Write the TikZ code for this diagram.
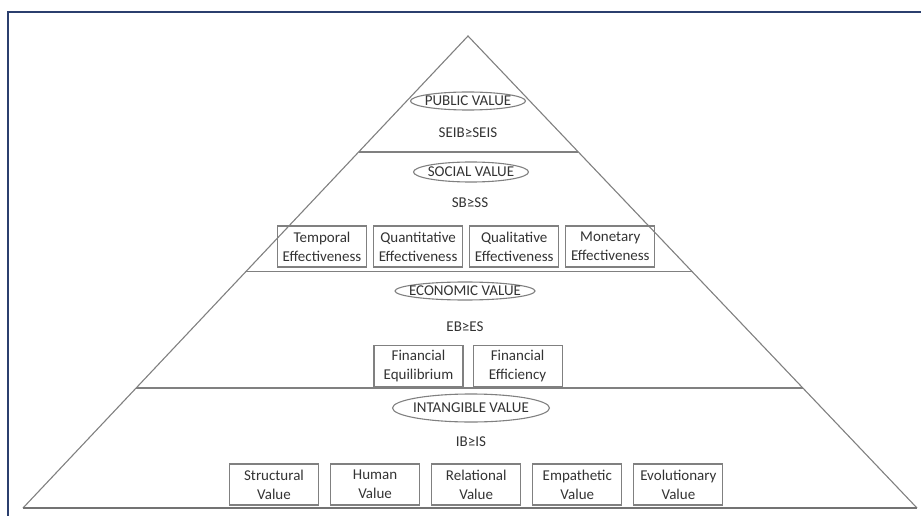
\documentclass[tikz,border=0pt]{standalone}
\usepackage{fontspec}
\setmainfont{Carlito}
\usetikzlibrary{positioning,shapes.geometric,calc}
\definecolor{framecol}{HTML}{2B3F6E}
\definecolor{linecol}{HTML}{808080}
\definecolor{textcol}{HTML}{333333}

\begin{document}
\begin{tikzpicture}[x=1pt,y=-1pt,node distance=10pt,
                    every node/.style={font=\fontsize{15}{19}\selectfont,text=textcol},
                    valuering/.style={ellipse,draw=linecol,line width=1.1pt,inner sep=-20pt},
                    valuebox/.style={draw=linecol,line width=1.1pt,minimum width=89pt,
                                     minimum height=41pt,align=center,inner sep=1pt}]

  \useasboundingbox (0,0) rectangle (921,516);
  \draw[framecol,line width=2pt] (8,516) -- (8,12) -- (921,12);

  % pyramid
  \coordinate (apex) at (468,36);
  \coordinate (bl) at (23,508);
  \coordinate (br) at (917,508);
  \draw[linecol,line width=1.1pt] (bl) -- (apex) -- (br);
  \draw[linecol!90!black,line width=1.6pt] (bl) -- (br);
  \foreach \t in {0.2458,0.498,0.7458}
    \draw[linecol,line width=1.1pt] ($(apex)!\t!(bl)$) -- ($(apex)!\t!(br)$);

  % public value
  \node[valuering,minimum width=115pt,minimum height=18pt] (pv) at (468,101) {PUBLIC VALUE};
  \node (pvrel) at (468,133) {SEIB≥SEIS};

  % social value
  \node[valuering,minimum width=115pt,minimum height=20pt] (sv) at (471,172) {SOCIAL VALUE};
  \node (svrel) at (470,203) {SB≥SS};
  \node[valuebox] (temp) at (322,246.5) {Temporal\\Effectiveness};
  \node[valuebox] (quan) [right=6pt of temp] {Quantitative\\Effectiveness};
  \node[valuebox] (qual) [right=6pt of quan] {Qualitative\\Effectiveness};
  \node[valuebox] (mone) [right=6pt of qual] {Monetary\\Effectiveness};

  % economic value
  \node[valuering,minimum width=140pt,minimum height=18pt] (ev) at (465,291) {ECONOMIC VALUE};
  \node (evrel) at (465,327) {EB≥ES};
  \node[valuebox] (equi) at (418.5,366) {Financial\\Equilibrium};
  \node[valuebox] (effi) [right=9pt of equi] {Financial\\Efficiency};

  % intangible value
  \node[valuering,minimum width=157pt,minimum height=28pt] (iv) at (471,408) {INTANGIBLE VALUE};
  \node (ivrel) at (471,442) {IB≥IS};
  \node[valuebox] (stru) at (274,484.5) {Structural\\Value};
  \node[valuebox] (huma) [right=11pt of stru] {Human\\Value};
  \node[valuebox] (rela) [right=11pt of huma] {Relational\\Value};
  \node[valuebox] (empa) [right=11pt of rela] {Empathetic\\Value};
  \node[valuebox] (evol) [right=11pt of empa] {Evolutionary\\Value};

\end{tikzpicture}
\end{document}
